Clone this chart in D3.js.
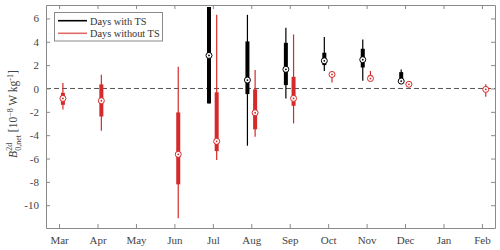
<!DOCTYPE html>
<html><head><meta charset="utf-8">
<script src="https://cdn.jsdelivr.net/npm/d3@7"></script>
<style>body{margin:0;background:#fff}svg{display:block}</style>
</head><body><svg id="c" width="500" height="250"></svg>
<script>
const months = ["Mar","Apr","May","Jun","Jul","Aug","Sep","Oct","Nov","Dec","Jan","Feb"];
const yTicks = [-10,-8,-6,-4,-2,0,2,4,6];

const withMonth = ["Jul","Aug","Sep","Oct","Nov","Dec"];
const withMin = [-1.28,-4.9,-0.85,1.5,0.66,0.6];
const withQ1  = [-1.28,-0.48,0.29,2.0,1.8,0.62];
const withMed = [2.83,0.72,1.64,2.37,2.47,0.63];
const withQ3  = [6.98,4.03,3.91,3.06,3.4,1.4];
const withMax = [6.98,6.31,5.2,4.4,4.2,1.63];

const woMonth = ["Mar","Apr","Jun","Jul","Aug","Sep","Oct","Nov","Dec","Feb"];
const woMin = [-1.79,-3.62,-11.12,-6.13,-4.13,-2.99,0.52,0.75,0.3,-0.71];
const woQ1  = [-1.4,-2.4,-8.21,-5.36,-3.5,-1.48,1.05,0.8,0.33,-0.15];
const woMed = [-0.85,-1.05,-5.64,-4.53,-2.08,-0.85,1.2,0.85,0.36,-0.08];
const woQ3  = [-0.37,0.35,-2.05,-0.33,-0.08,1.0,1.35,1.15,0.4,0.05];
const woMax = [0.46,1.17,1.86,6.31,1.58,4.63,1.4,1.5,0.42,0.37];

const seriesNames = ["Days with TS","Days without TS"];
const colors = ["#000000","#d62a2a"];

const svg = d3.select("#c");
const L=46,R=495,T=5,B=228;
const x = d3.scaleLinear().domain([-0.34,11.34]).range([L,R]);
const y = d3.scaleLinear().domain([-11.95,7.15]).range([B,T]);
const font = "'Liberation Serif', 'DejaVu Serif', serif";
const axisCol = "#8a8a8a", txtCol="#444";

svg.append("clipPath").attr("id","clp").append("rect")
  .attr("x",L).attr("y",T).attr("width",R-L).attr("height",B-T);

// zero line
svg.append("line").attr("x1",L).attr("x2",R).attr("y1",y(0)).attr("y2",y(0))
  .attr("stroke","#555").attr("stroke-width",1).attr("stroke-dasharray","5,3");

function drawSeries(mon, mn, q1, md, q3, mx, col, off){
  const g = svg.append("g").attr("clip-path","url(#clp)");
  mon.forEach((m,i)=>{
    const cx = x(months.indexOf(m)+off);
    g.append("line").attr("x1",cx).attr("x2",cx).attr("y1",y(mn[i])).attr("y2",y(mx[i]))
      .attr("stroke",col).attr("stroke-width",1.2);
    g.append("rect").attr("x",cx-2).attr("width",4)
      .attr("y",y(q3[i])).attr("height",Math.max(0.5,y(q1[i])-y(q3[i]))).attr("fill",col);
    g.append("circle").attr("cx",cx).attr("cy",y(md[i])).attr("r",3)
      .attr("fill","#fff").attr("stroke",col).attr("stroke-width",1);
    g.append("circle").attr("cx",cx).attr("cy",y(md[i])).attr("r",0.9).attr("fill",col);
  });
}
drawSeries(withMonth,withMin,withQ1,withMed,withQ3,withMax,colors[0],-0.1);
drawSeries(woMonth,woMin,woQ1,woMed,woQ3,woMax,colors[1],0.1);

// axes
const xb = svg.append("g").attr("transform",`translate(0,${B})`)
  .call(d3.axisBottom(x).tickValues(d3.range(12)).tickFormat(i=>months[i]).tickSizeInner(-4).tickSizeOuter(0).tickPadding(8));
const xt = svg.append("g").attr("transform",`translate(0,${T})`)
  .call(d3.axisTop(x).tickValues(d3.range(12)).tickFormat("").tickSizeInner(-4).tickSizeOuter(0));
const yl = svg.append("g").attr("transform",`translate(${L},0)`)
  .call(d3.axisLeft(y).tickValues(yTicks).tickFormat(d3.format("d")).tickSizeInner(-4).tickSizeOuter(0).tickPadding(7));
const yr = svg.append("g").attr("transform",`translate(${R},0)`)
  .call(d3.axisRight(y).tickValues(yTicks).tickFormat("").tickSizeInner(-4).tickSizeOuter(0));
[xb,xt,yl,yr].forEach(a=>{
  a.select(".domain").attr("stroke",axisCol);
  a.selectAll(".tick line").attr("stroke",axisCol);
  a.selectAll("text").attr("fill",txtCol).style("font-family",font).style("font-size","11px");
});
yl.selectAll("text").text(d=>d<0?"-"+Math.abs(d):d);

// legend
const lg = svg.append("g");
lg.append("rect").attr("x",54.5).attr("y",12.5).attr("width",108).attr("height",28.5)
  .attr("fill","#fff").attr("stroke",axisCol).attr("stroke-width",1);
seriesNames.forEach((n,i)=>{
  const yy = 20.7 + i*12.6;
  lg.append("line").attr("x1",58).attr("x2",87).attr("y1",yy).attr("y2",yy)
    .attr("stroke",i?"#e06a6a":colors[0]).attr("stroke-width",1.6);
  lg.append("text").attr("x",90).attr("y",yy+3.8).text(n)
    .style("font-family",font).style("font-size","10.3px").attr("fill","#333");
});

// y label
const yt = svg.append("text").attr("transform","translate(17,114) rotate(-90)")
  .attr("text-anchor","middle").style("font-family",font).style("font-size","11.5px").attr("fill","#444");
yt.append("tspan").attr("font-style","italic").text("B");
yt.append("tspan").attr("font-size","8px").attr("dy",-5).attr("dx",0).text("2d");
yt.append("tspan").attr("font-size","8px").attr("dy",9).attr("dx",-8).text("0,net");
yt.append("tspan").attr("dy",-4).text(" [10");
yt.append("tspan").attr("font-size","8px").attr("dy",-4).text("−8");
yt.append("tspan").attr("dy",4).text(" W kg");
yt.append("tspan").attr("font-size","8px").attr("dy",-4).text("-1");
yt.append("tspan").attr("dy",4).text("]");
</script></body></html>
